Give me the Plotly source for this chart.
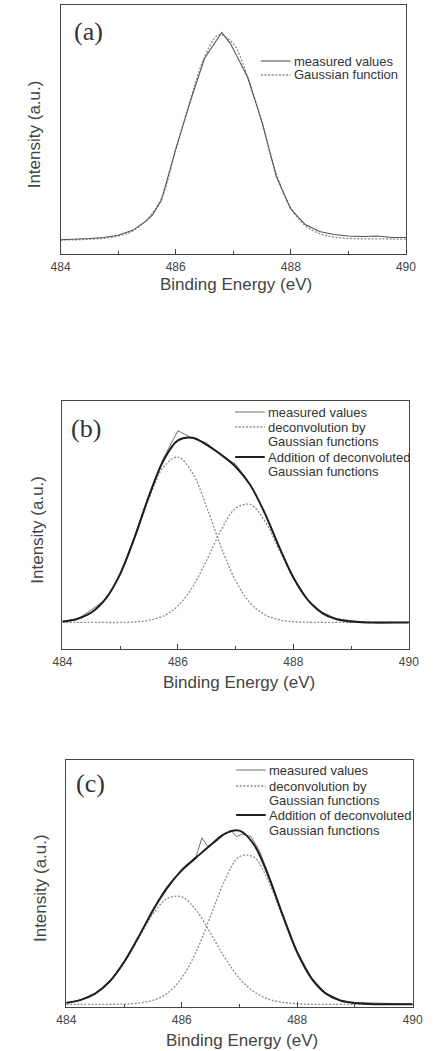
import plotly.graph_objects as go

W, H = 436, 1051

# ---------------- data (arbitrary intensity units) ----------------
x_grid = [484.0, 484.25, 484.5, 484.75, 485.0, 485.25, 485.5, 485.75, 486.0, 486.25, 486.5, 486.75,
          487.0, 487.25, 487.5, 487.75, 488.0, 488.25, 488.5, 488.75, 489.0, 489.25, 489.5, 489.75, 490.0]

# panel (a)
a_meas_x = [484.0, 484.25, 484.5, 484.75, 485.0, 485.25, 485.5, 485.6, 485.75, 486.0, 486.25, 486.5, 486.65,
            486.8, 486.95, 487.25, 487.5, 487.75, 488.0, 488.25, 488.5, 488.75, 489.0, 489.25, 489.5, 489.75, 490.0]
a_meas_y = [0.057, 0.058, 0.062, 0.066, 0.075, 0.095, 0.135, 0.158, 0.215, 0.42, 0.61, 0.785, 0.84,
            0.89, 0.845, 0.71, 0.53, 0.31, 0.18, 0.118, 0.09, 0.078, 0.072, 0.07, 0.072, 0.066, 0.066]
a_gauss_y = [0.056, 0.057, 0.059, 0.063, 0.072, 0.092, 0.138, 0.222, 0.418, 0.615, 0.790, 0.880,
             0.845, 0.710, 0.525, 0.320, 0.185, 0.114, 0.082, 0.068, 0.063, 0.061, 0.061, 0.060, 0.060]

# panel (b)
b_meas_y = [0.108, 0.118, 0.158, 0.200, 0.298, 0.455, 0.625, 0.770, 0.880, 0.850, 0.830, 0.780,
            0.745, 0.665, 0.552, 0.410, 0.290, 0.196, 0.148, 0.122, 0.114, 0.110, 0.104, 0.106, 0.107]
b_g1_y = [0.111, 0.121, 0.147, 0.203, 0.303, 0.448, 0.608, 0.734, 0.774, 0.710, 0.571, 0.410,
          0.275, 0.186, 0.139, 0.118, 0.110, 0.108, 0.107, 0.107, 0.107, 0.107, 0.107, 0.107, 0.107]
b_g2_y = [0.107, 0.107, 0.107, 0.107, 0.107, 0.109, 0.116, 0.133, 0.174, 0.249, 0.359, 0.480,
          0.567, 0.583, 0.518, 0.403, 0.285, 0.197, 0.145, 0.120, 0.111, 0.107, 0.107, 0.107, 0.107]
b_sum_y = [0.111, 0.121, 0.147, 0.203, 0.303, 0.450, 0.617, 0.760, 0.841, 0.852, 0.823, 0.783,
           0.735, 0.662, 0.550, 0.414, 0.288, 0.198, 0.145, 0.120, 0.111, 0.107, 0.107, 0.107, 0.107]

# panel (c)
c_meas_x = [484.0, 484.25, 484.5, 484.75, 485.0, 485.25, 485.5, 485.75, 486.0, 486.25, 486.35, 486.45, 486.6,
            486.75, 486.85, 486.95, 487.05, 487.2, 487.35, 487.5, 487.75, 488.0, 488.25, 488.5, 488.75,
            489.0, 489.25, 489.5, 489.75, 490.0]
c_meas_y = [0.015, 0.028, 0.056, 0.100, 0.185, 0.280, 0.395, 0.480, 0.560, 0.610, 0.685, 0.650, 0.670,
            0.700, 0.716, 0.690, 0.700, 0.690, 0.630, 0.540, 0.375, 0.225, 0.118, 0.055, 0.028,
            0.018, 0.016, 0.014, 0.013, 0.012]
c_g1_y = [0.017, 0.029, 0.054, 0.103, 0.180, 0.278, 0.375, 0.439, 0.446, 0.392, 0.298, 0.198,
          0.116, 0.062, 0.032, 0.019, 0.013, 0.011, 0.011, 0.011, 0.011, 0.011, 0.011, 0.011, 0.011]
c_g2_y = [0.011, 0.011, 0.011, 0.011, 0.012, 0.016, 0.027, 0.056, 0.118, 0.224, 0.369, 0.515,
          0.609, 0.607, 0.510, 0.363, 0.219, 0.115, 0.054, 0.026, 0.016, 0.012, 0.011, 0.011, 0.011]
c_sum_y = [0.017, 0.029, 0.054, 0.103, 0.181, 0.283, 0.391, 0.484, 0.553, 0.605, 0.656, 0.702,
           0.714, 0.658, 0.531, 0.371, 0.221, 0.115, 0.054, 0.026, 0.016, 0.012, 0.011, 0.011, 0.011]

x_ticks = [484, 486, 488, 490]
panel_labels = ["(a)", "(b)", "(c)"]
x_title = "Binding Energy (eV)"
y_title = "Intensity (a.u.)"
leg_meas = "measured values"
leg_gauss_a = "Gaussian function"
leg_deconv = ["deconvolution by", "Gaussian functions"]
leg_sum = ["Addition of deconvoluted", "Gaussian functions"]

# ---------------- layout helpers ----------------
def px(x):
    return x / W

def py(y):
    return 1 - y / H

# plot boxes in pixels: left, right, top, bottom
boxes = [(53, 415, 5, 254), (55, 418, 401, 649), (59, 422, 760, 1007)]
x_title_offset = [30, 33, 33]

SANS = "Liberation Sans, Arial, sans-serif"
SERIF = "Liberation Serif, Times New Roman, serif"
MEAS_COL = "#707070"
DOT_COL = "#8c8c8c"
SUM_COL = "#1e1e1e"
DOT_DASH = "2px,1.6px"

meas_line = dict(color=MEAS_COL, width=1.0)
dot_line = dict(color=DOT_COL, width=1.3, dash=DOT_DASH)
sum_line = dict(color=SUM_COL, width=2.0)

fig = go.Figure()

# panel (a)
fig.add_trace(go.Scatter(x=x_grid, y=a_gauss_y, mode="lines", name=leg_gauss_a, line_shape="spline",
                         line=dot_line, xaxis="x", yaxis="y", showlegend=False))
fig.add_trace(go.Scatter(x=a_meas_x, y=a_meas_y, mode="lines", name=leg_meas,
                         line=dict(color="#555555", width=1.1), xaxis="x", yaxis="y", showlegend=False))

# panel (b)
fig.add_trace(go.Scatter(x=x_grid, y=b_g1_y, mode="lines", name=leg_deconv[0], line_shape="spline",
                         line=dot_line, xaxis="x2", yaxis="y2", showlegend=False))
fig.add_trace(go.Scatter(x=x_grid, y=b_g2_y, mode="lines", name=leg_deconv[0], line_shape="spline",
                         line=dot_line, xaxis="x2", yaxis="y2", showlegend=False))
fig.add_trace(go.Scatter(x=x_grid, y=b_meas_y, mode="lines", name=leg_meas,
                         line=meas_line, xaxis="x2", yaxis="y2", showlegend=False))
fig.add_trace(go.Scatter(x=x_grid, y=b_sum_y, mode="lines", name=leg_sum[0], line_shape="spline",
                         line=sum_line, xaxis="x2", yaxis="y2", showlegend=False))

# panel (c)
fig.add_trace(go.Scatter(x=x_grid, y=c_g1_y, mode="lines", name=leg_deconv[0], line_shape="spline",
                         line=dot_line, xaxis="x3", yaxis="y3", showlegend=False))
fig.add_trace(go.Scatter(x=x_grid, y=c_g2_y, mode="lines", name=leg_deconv[0], line_shape="spline",
                         line=dot_line, xaxis="x3", yaxis="y3", showlegend=False))
fig.add_trace(go.Scatter(x=c_meas_x, y=c_meas_y, mode="lines", name=leg_meas,
                         line=meas_line, xaxis="x3", yaxis="y3", showlegend=False))
fig.add_trace(go.Scatter(x=x_grid, y=c_sum_y, mode="lines", name=leg_sum[0], line_shape="spline",
                         line=sum_line, xaxis="x3", yaxis="y3", showlegend=False))

layout = dict(
    width=W, height=H, margin=dict(l=0, r=0, t=0, b=0),
    paper_bgcolor="white", plot_bgcolor="white",
    font=dict(family=SANS, color="#333333"),
    showlegend=False,
)

annotations = []
shapes = []
suffixes = ["", "2", "3"]
label_pos = [(82, 32), (80, 428), (84, 783)]
for i, (l, r, t, b) in enumerate(boxes):
    s = suffixes[i]
    layout["xaxis" + s] = dict(
        domain=[px(l), px(r)], range=[484, 490], anchor="y" + s,
        tickvals=x_ticks, ticks="inside", ticklen=5, tickwidth=1, tickcolor="#444",
        minor=dict(dtick=1, ticks="inside", ticklen=3, tickcolor="#444"),
        showline=True, linecolor="#444", linewidth=1.3, mirror=True,
        showgrid=False, zeroline=False,
        tickfont=dict(size=12, color="#444", family=SANS), ticklabelstandoff=1,
    )
    layout["yaxis" + s] = dict(
        domain=[py(b), py(t)], range=[0, 1], anchor="x" + s,
        showticklabels=False, ticks="", showline=True, linecolor="#444", linewidth=1.3,
        mirror=True, showgrid=False, zeroline=False,
    )
    lx, ly = label_pos[i]
    annotations.append(dict(text=panel_labels[i], x=px(lx), y=py(ly), xref="paper", yref="paper",
                            xanchor="center", yanchor="middle", showarrow=False,
                            font=dict(family=SERIF, size=26, color="#333")))
    annotations.append(dict(text=x_title, x=px((l + r) / 2 + 3), y=py(b + x_title_offset[i]),
                            xref="paper", yref="paper",
                            xanchor="center", yanchor="middle", showarrow=False,
                            font=dict(family=SANS, size=17, color="#444")))
    annotations.append(dict(text=y_title, x=px(l - 27), y=py((t + b) / 2 + 5), xref="paper", yref="paper",
                            xanchor="center", yanchor="middle", showarrow=False, textangle=-90,
                            font=dict(family=SANS, size=17, color="#444")))

# ---------------- hand-placed legends (text rows + sample lines) ----------------
def legend_rows(sample_x0, sample_x1, text_x, rows):
    for yrow, text, style in rows:
        annotations.append(dict(text=text, x=px(text_x), y=py(yrow), xref="paper", yref="paper",
                                xanchor="left", yanchor="middle", showarrow=False,
                                font=dict(family=SANS, size=13, color="#333")))
        if style is not None:
            shapes.append(dict(type="line", xref="paper", yref="paper",
                               x0=px(sample_x0), x1=px(sample_x1), y0=py(yrow), y1=py(yrow),
                               line=style))

legend_rows(263, 294, 296, [
    (61, leg_meas, dict(color="#555555", width=1.1)),
    (75, leg_gauss_a, dot_line),
])
legend_rows(236, 267, 268, [
    (412, leg_meas, meas_line),
    (427, leg_deconv[0], dot_line),
    (442, leg_deconv[1], None),
    (457, leg_sum[0], sum_line),
    (472, leg_sum[1], None),
])
legend_rows(237, 268, 269, [
    (770, leg_meas, meas_line),
    (786, leg_deconv[0], dot_line),
    (800, leg_deconv[1], None),
    (815, leg_sum[0], sum_line),
    (830, leg_sum[1], None),
])

layout["annotations"] = annotations
layout["shapes"] = shapes
fig.update_layout(**layout)

fig.write_html("out.html")
